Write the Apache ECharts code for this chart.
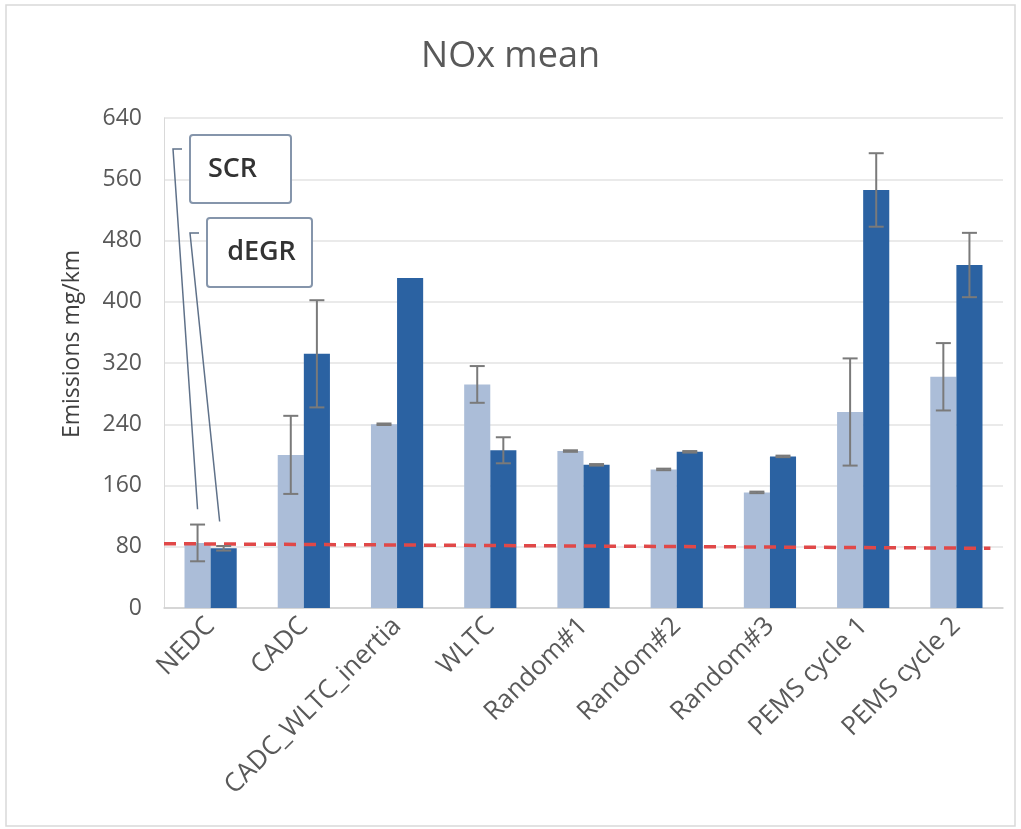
<!DOCTYPE html>
<html>
<head>
<meta charset="utf-8">
<script src="https://cdn.jsdelivr.net/npm/echarts@6/dist/echarts.min.js"></script>
<style>
html,body{margin:0;padding:0;background:#fff;}
#chart{width:1021px;height:829px;}
</style>
</head>
<body>
<div id="chart"></div>
<script>
// ---- data ----
const categories = ['NEDC','CADC','CADC_WLTC_inertia','WLTC','Random#1','Random#2','Random#3','PEMS cycle 1','PEMS cycle 2'];
const scrMean  = [85, 200, 240, 292, 205, 181, 151, 256, 302];
const scrErr   = [24, 51, 1, 24, 1, 1, 1, 70, 44];
const degrMean = [78, 332, 431, 206, 187, 204, 198, 546, 448];
const degrErr  = [3, 70, null, 17, 1, 1, 1, 48, 42];
const yTicks   = [0, 80, 160, 240, 320, 400, 480, 560, 640];
const limitLine = [[0, 84], [0.985, 78]];
const seriesNames = ['SCR', 'dEGR'];
const calloutAnchor = [129, 113]; // value where each callout leader meets its NEDC bar

const GAP = 0.44;
const FONT = '"Open Sans", "Noto Sans", sans-serif';

function errData(mean, err) {
  const out = [];
  mean.forEach((m, i) => { if (err[i] != null) out.push([i, m - err[i], m + err[i]]); });
  return out;
}
function errRender(sign) {
  return function (params, api) {
    const cat = api.value(0), lo = api.value(1), hi = api.value(2);
    const band = api.size([1, 0])[0];
    const barW = band * (1 - GAP) / 2;
    const off = sign * barW / 2;
    const pHi = api.coord([cat, hi]);
    const pLo = api.coord([cat, lo]);
    const x = pHi[0] + off;
    const cap = 7.5;
    const st = { stroke: '#7a7a7a', lineWidth: 2 };
    return {
      type: 'group',
      children: [
        { type: 'line', shape: { x1: x, y1: pHi[1], x2: x, y2: pLo[1] }, style: st },
        { type: 'line', shape: { x1: x - cap, y1: pHi[1], x2: x + cap, y2: pHi[1] }, style: st },
        { type: 'line', shape: { x1: x - cap, y1: pLo[1], x2: x + cap, y2: pLo[1] }, style: st }
      ]
    };
  };
}

const chart = echarts.init(document.getElementById('chart'), null, { renderer: 'canvas' });
chart.setOption({
  backgroundColor: '#ffffff',
  animation: false,
  title: {
    text: 'NOx mean', left: 'center', top: 34,
    textStyle: { fontFamily: FONT, fontSize: 36, fontWeight: 'normal', color: '#595959' }
  },
  grid: { left: 164, right: 18, top: 118, bottom: 221, containLabel: false },
  xAxis: [{
    type: 'category', data: categories,
    axisLine: { show: true, lineStyle: { color: '#d0d0d0', width: 1.5 } },
    axisTick: { show: false },
    axisLabel: { rotate: 45, interval: 0, margin: 14, color: '#595959', fontFamily: FONT, fontSize: 26 }
  }, {
    type: 'value', min: 0, max: 1, show: false
  }],
  yAxis: {
    type: 'value', min: 0, max: 640, interval: 80,
    name: 'Emissions mg/km', nameLocation: 'middle', nameGap: 80, nameRotate: 90,
    nameTextStyle: { fontFamily: FONT, fontSize: 23, color: '#404040', padding: [0, 0, 0, 38] },
    axisLine: { show: true, lineStyle: { color: '#d9d9d9', width: 1 } },
    axisTick: { show: false },
    axisLabel: { margin: 22, color: '#595959', fontFamily: FONT, fontSize: 23,
      formatter: v => yTicks.indexOf(v) >= 0 ? String(v) : '' },
    splitLine: { lineStyle: { color: '#e3e3e3', width: 1.5 } }
  },
  series: [
    { name: seriesNames[0], type: 'bar', data: scrMean, barGap: '0%', barCategoryGap: (GAP * 100) + '%',
      itemStyle: { color: '#abbdd8' } },
    { name: seriesNames[1], type: 'bar', data: degrMean, barGap: '0%', barCategoryGap: (GAP * 100) + '%',
      itemStyle: { color: '#2b62a2' } },
    { type: 'line', xAxisIndex: 1, data: limitLine, symbol: 'none', z: 5,
      lineStyle: { color: '#e04848', width: 3.5, type: [12, 8] } },
    { type: 'custom', data: errData(scrMean, scrErr), renderItem: errRender(-1), z: 6,
      encode: { x: 0, y: [1, 2] } },
    { type: 'custom', data: errData(degrMean, degrErr), renderItem: errRender(1), z: 6,
      encode: { x: 0, y: [1, 2] } }
  ]
});

// callouts (annotation boxes with leader lines anchored to the NEDC bars)
const p0 = chart.convertToPixel({ xAxisIndex: 0, yAxisIndex: 0 }, [0, 0]);
const p1 = chart.convertToPixel({ xAxisIndex: 0, yAxisIndex: 0 }, [1, 0]);
const band = p1[0] - p0[0];
const barW = band * (1 - GAP) / 2;
const boxes = [
  { x: 190, y: 135, w: 101, h: 68, tick: [182, 173, 149], dx: -8 },
  { x: 207, y: 218, w: 105, h: 69, tick: [199, 190, 233], dx: 2 }
];
const graphics = [{
  type: 'rect', shape: { x: 6, y: 5, width: 1009, height: 821 },
  style: { fill: 'none', stroke: '#d9d9d9', lineWidth: 1.5 }, z: 0, silent: true
}];
boxes.forEach((b, k) => {
  const anchor = chart.convertToPixel({ xAxisIndex: 0, yAxisIndex: 0 }, [0, calloutAnchor[k]]);
  const ax = anchor[0] + (k === 0 ? -1 : 1) * barW / 2 - (k === 1 ? 4 : 0);
  const ls = { stroke: '#5f7189', lineWidth: 1.5 };
  graphics.push(
    { type: 'polyline', shape: { points: [[b.tick[0], b.tick[2]], [b.tick[1], b.tick[2]], [ax, anchor[1]]] },
      style: Object.assign({ fill: 'none' }, ls), z: 20 },
    { type: 'rect', shape: { x: b.x, y: b.y, width: b.w, height: b.h, r: 3 },
      style: { fill: '#ffffff', stroke: '#8595ab', lineWidth: 2 }, z: 21 },
    { type: 'text', x: b.x + b.w / 2 + b.dx, y: b.y + b.h / 2, z: 22,
      style: { text: seriesNames[k], fontFamily: FONT, fontSize: 27, fontWeight: 600, fill: '#333333',
        align: 'center', verticalAlign: 'middle' } }
  );
});
chart.setOption({ graphic: graphics });
</script>
</body>
</html>
